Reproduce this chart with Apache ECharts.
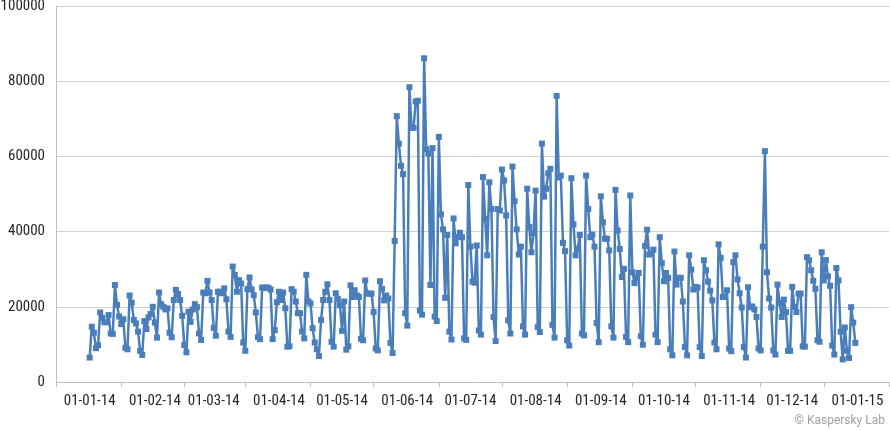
<!DOCTYPE html>
<html>
<head>
<meta charset="utf-8">
<title>Daily detections 2014</title>
<script src="https://cdn.jsdelivr.net/npm/echarts@6/dist/echarts.min.js"></script>
<style>
    html, body { margin: 0; padding: 0; background: #fff; }
    #chart { width: 890px; height: 430px; }
</style>
</head>
<body>
<div id="chart"></div>
<script>
// ================* DAILY VALUES 2014 *

var jan = [6500, 14700, 13100, 9000, 9800, 18500, 17100, 15900, 15900, 17800, 12900, 12800, 25800, 20500, 17400, 15400,
    16700, 9100, 8700, 23000, 21100, 16500, 15600, 13400, 8300, 7200, 16200, 14100, 17200, 18100, 20000];
var feb = [15800, 11800, 23800, 20700, 20000, 19300, 19600, 13100, 11900, 21800, 24500, 23400, 21800, 17600, 9800, 7900,
    18700, 16000, 19300, 20700, 19900, 12900, 11200, 23800, 23600, 26900, 23800, 21800];
var mar = [14400, 12300, 24000, 24000, 23600, 24900, 22000, 13400, 12000, 30700, 28500, 24000, 27100, 26200, 10500, 8300,
    24700, 27800, 24600, 23100, 18500, 11900, 11400, 25100, 25100, 25100, 25100, 24600, 11400, 13800, 21200];
var apr = [24000, 21800, 23800, 19600, 9400, 9500, 24700, 24000, 21400, 18300, 18300, 13400, 11600, 28500, 21400, 20900,
    14300, 10500, 8700, 6900, 16500, 21800, 24000, 26000, 21800, 10700, 9400, 23600, 22100, 20400];
var may = [13600, 21400, 8600, 9500, 25700, 22600, 24400, 23000, 22600, 11500, 11100, 27000, 23500, 23500, 23500, 18600,
    8900, 8400, 26800, 24800, 21700, 23000, 22200, 10400, 7700, 37500, 70700, 63400, 57500, 55300, 18300];
var jun = [15000, 78400, 67600, 67600, 74600, 74800, 19000, 17900, 86100, 61900, 60800, 25800, 62200, 17400, 16200, 65200,
    44600, 40600, 22400, 39100, 13400, 11300, 43500, 36900, 38600, 39700, 38500, 11600, 11200, 52400];
var jul = [36000, 26700, 26400, 36300, 13700, 12600, 54500, 43400, 33700, 53100, 46000, 17300, 10900, 46000, 45600, 56500,
    53600, 44300, 16400, 12900, 57300, 48100, 40600, 33900, 36000, 14800, 12600, 51400, 41200, 34500, 39600];
var aug = [50900, 14600, 13300, 63400, 49300, 51400, 55500, 56700, 15200, 11800, 76100, 54400, 54900, 37000, 34800, 11100,
    9700, 54200, 41900, 33700, 35400, 39100, 12900, 12400, 54900, 46000, 38500, 39200, 36000, 15700, 10600];
var sep = [49400, 42500, 38100, 38100, 35000, 14800, 11800, 51100, 40300, 35400, 27900, 30100, 12000, 10600, 49600, 29200,
    26300, 27700, 29000, 12200, 9900, 36200, 40500, 33900, 34200, 35200, 12600, 10600, 38500, 31600];
var oct = [26800, 29000, 27700, 8700, 7100, 34700, 25900, 27700, 27700, 21400, 9300, 7100, 33700, 29900, 24600, 25300,
    25100, 9300, 6900, 32400, 29700, 26700, 24300, 21700, 10500, 8700, 36600, 33000, 22600, 22600, 24400];
var nov = [8900, 8200, 31900, 33700, 27300, 23600, 19800, 9300, 6500, 25200, 19900, 20100, 19300, 17300, 8900, 8400,
    36000, 61400, 29200, 22200, 19800, 8400, 7300, 25900, 21000, 17300, 21900, 18600, 8300, 8300];
var dec = [25300, 20000, 18600, 23500, 23500, 9500, 9400, 33200, 32400, 29700, 26900, 24800, 11100, 10700, 34500, 27000,
    32400, 28100, 25600, 9700, 7300, 30300, 27000, 13400, 6000, 14500, 8300, 6400, 19900, 15800, 10400];

// axis runs half a month either side of the year, like the original
var axisStart = new Date(2013, 11, 16);
var axisEnd = new Date(2015, 0, 16);
var yTicks = [0, 20000, 40000, 60000, 80000, 100000];

var labelFont = '"Liberation Sans Narrow", "Roboto Condensed", Roboto, sans-serif';

function fmtDay(d) {
    var dd = ('0' + d.getDate()).slice(-2);
    var mm = ('0' + (d.getMonth() + 1)).slice(-2);
    var yy = String(d.getFullYear()).slice(-2);
    return dd + '-' + mm + '-' + yy;
}

var days = [];
for (var d = new Date(axisStart); d <= axisEnd; d.setDate(d.getDate() + 1)) {
    days.push(fmtDay(d));
}

var year = [].concat(jan, feb, mar, apr, may, jun, jul, aug, sep, oct, nov, dec);
var lead = days.indexOf('01-01-14');
var values = days.map(function (v, i) {
    var k = i - lead;
    return (k >= 0 && k < year.length) ? year[k] : null;
});

var chart = echarts.init(document.getElementById('chart'));
var option = {
    animation: false,
    grid: {
        left: 56,
        right: 1,
        top: 6,
        bottom: 48,
        containLabel: false,
        outerBoundsMode: 'none'
    },
    xAxis: {
        type: 'category',
        data: days,
        boundaryGap: false,
        axisLine: { lineStyle: { color: '#bfbfbf', width: 1 } },
        axisTick: {
            length: 5,
            lineStyle: { color: '#bfbfbf' },
            // ticks sit mid-month, between the labels
            interval: function (i, v) {
                if (v.substr(3, 2) === '02') return v.indexOf('15-') === 0;
                return v.indexOf('16-') === 0;
            }
        },
        axisLabel: {
            interval: function (i, v) {
                return v.indexOf('01-') === 0;
            },
            hideOverlap: false,
            margin: 12,
            color: '#262626',
            fontSize: 15,
            fontFamily: labelFont
        },
        splitLine: { show: false }
    },
    yAxis: {
        type: 'value',
        min: yTicks[0],
        max: yTicks[yTicks.length - 1],
        interval: yTicks[1] - yTicks[0],
        axisLine: { show: true, lineStyle: { color: '#bfbfbf', width: 1 } },
        axisTick: { show: false },
        axisLabel: {
            margin: 11,
            color: '#262626',
            fontSize: 15,
            fontFamily: labelFont,
            formatter: function (val) {
                return String(val);
            }
        },
        splitLine: { lineStyle: { color: '#d0d0d0', width: 1 } }
    },
    series: [{
        type: 'line',
        data: values,
        symbol: 'rect',
        symbolSize: 6,
        showAllSymbol: true,
        connectNulls: false,
        silent: true,
        lineStyle: { color: '#4A7EBB', width: 2.5 },
        itemStyle: { color: '#4A7EBB' }
    }],
    graphic: [{
        type: 'text',
        right: 5,
        bottom: 3,
        style: {
            text: '\u00A9 Kaspersky Lab',
            fill: '#a0a0a0',
            font: '12px Roboto, sans-serif'
        }
    }]
};
chart.setOption(option);
</script>
</body>
</html>
